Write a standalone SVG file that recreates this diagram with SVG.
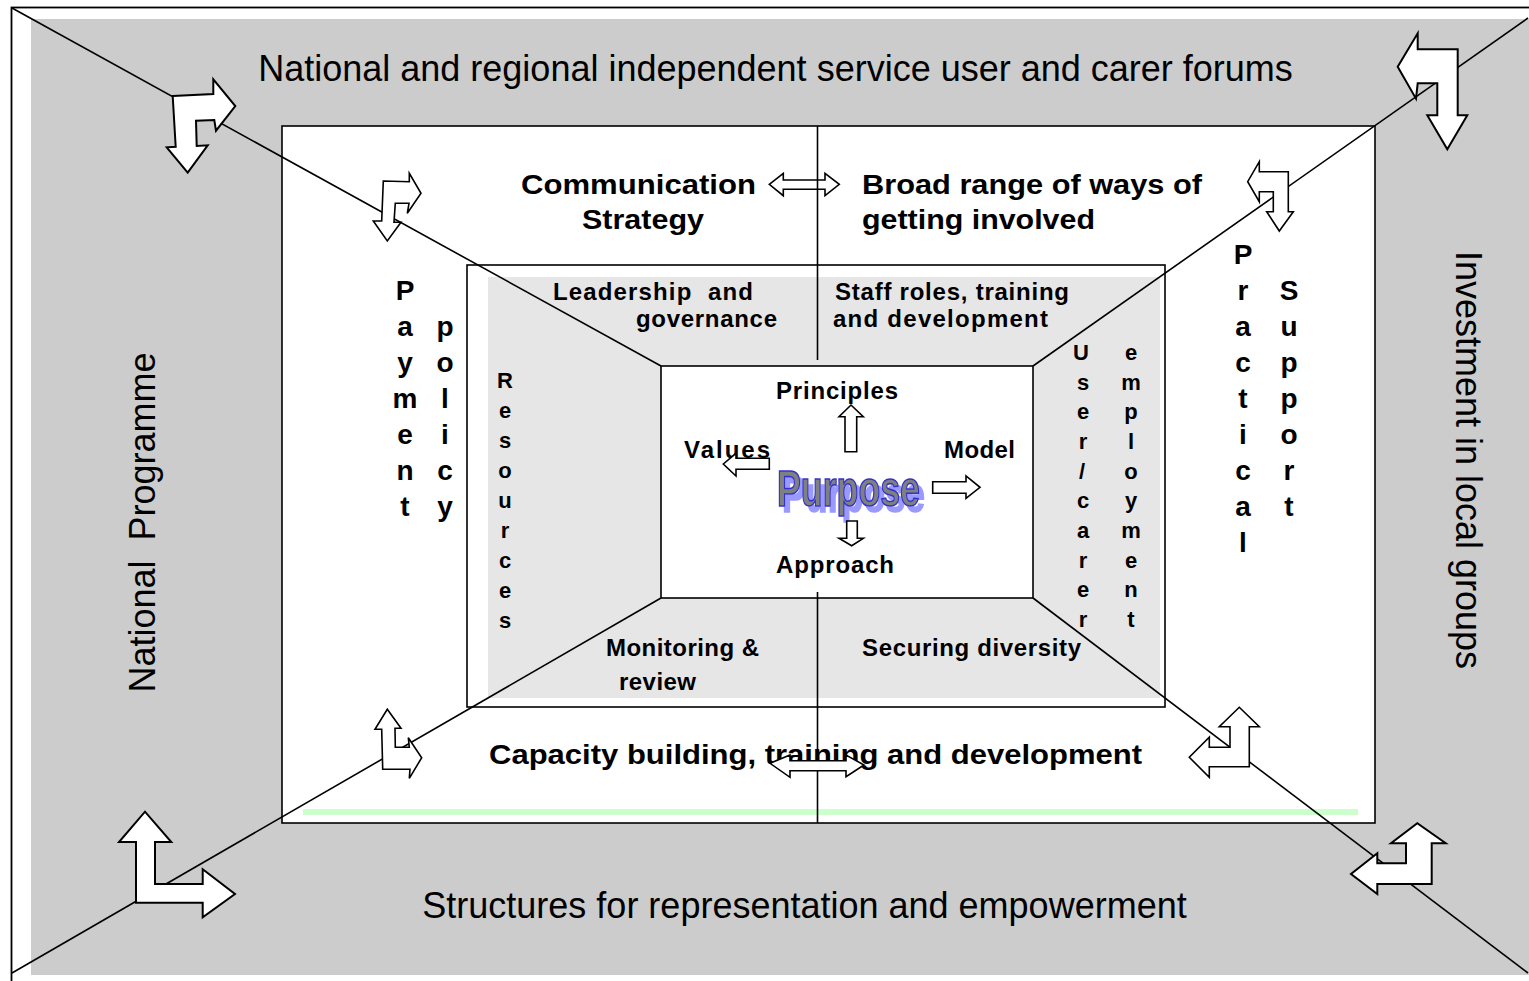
<svg xmlns="http://www.w3.org/2000/svg" width="1529" height="981" viewBox="0 0 1529 981">
<defs>
<filter id="wordart-shadow" x="-10%" y="-20%" width="130%" height="150%">
<feFlood flood-color="#9999ff" result="c"/>
<feComposite in="c" in2="SourceAlpha" operator="in" result="s"/>
<feOffset in="s" dx="5" dy="6" result="so"/>
<feMerge><feMergeNode in="so"/><feMergeNode in="SourceGraphic"/></feMerge>
</filter>
</defs>
<style>
.reg{font-family:"Liberation Sans",Arial,sans-serif;font-size:36px;fill:#000}
.b{font-family:"Liberation Sans",Arial,sans-serif;font-weight:bold;fill:#000}
.b28{font-size:28px}
.b24{font-size:24px}
.b20{font-size:22px}
.stack{font-family:"Liberation Sans",Arial,sans-serif;font-weight:bold;fill:#000;text-anchor:middle}
.ln{stroke:#000;stroke-width:1.6;fill:none}
.arr{fill:#fff;stroke:#000;stroke-width:2;stroke-linejoin:miter}
.arrs{fill:#fff;stroke:#000;stroke-width:1.6}
.frame{fill:#fff;stroke:#000;stroke-width:1.6}
</style>
<rect width="1529" height="981" fill="#fff"/>
<g id="outer-frame">
<rect x="11.5" y="7.5" width="1540" height="1000" fill="#fff" stroke="#000" stroke-width="1.8"/>
<rect x="31" y="19" width="1498" height="956" fill="#cccccc"/>
</g>
<g id="middle-frame">
<rect class="frame" x="282" y="126" width="1093" height="697"/>
<rect x="303" y="809" width="1055" height="6" fill="#ccffcc"/>
</g>
<g id="inner-frame">
<rect class="frame" x="467" y="265" width="698" height="442"/>
<rect x="488" y="277" width="672" height="421" fill="#e6e6e6"/>
</g>
<g id="connectors">
<line class="ln" x1="12" y1="8" x2="661" y2="366"/>
<line class="ln" x1="1528" y1="18" x2="1033" y2="366"/>
<line class="ln" x1="12" y1="973" x2="661" y2="598"/>
<line class="ln" x1="1528" y1="973" x2="1033" y2="598"/>
</g>
<g id="core">
<rect class="frame" x="661" y="366" width="372" height="232"/>
</g>
<g id="arrow-top-double">
<polygon class="arrs" points="769.3,184.3 783.3,173.3 783.3,180 825,180 825,173.3 839.3,184.3 825,195.7 825,189.3 783.3,189.3 783.3,195.7"/>
</g>
<g id="divider-lines">
<line class="ln" x1="817.5" y1="126" x2="817.5" y2="360"/>
<line class="ln" x1="817.5" y1="592" x2="817.5" y2="823"/>
</g>
<g id="corner-arrows">
<polygon class="arr" points="172.7,96 213.3,94 213.3,79.3 235.3,106 216,130.7 214.3,120 196,120.7 196.7,146 207.7,145.3 187.7,172.7 166.7,147.3 175.7,146.7"/>
<polygon class="arr" points="1457.7,49.3 1417.7,49.3 1417.7,33.3 1397.7,66.7 1416,98.7 1417.7,83.3 1437.3,83.3 1437.3,115.3 1427.3,115.3 1447.3,149.3 1467.3,115.3 1457.7,115.3"/>
<polygon class="arr" points="136,902.7 136,842 119,842 145,811.7 171.3,842 155,842 155,884 202.7,884 202.7,869.3 235,894 202.7,917.3 202.7,902.7"/>
<polygon class="arr" points="1431.7,884 1431.7,843.3 1445.7,843.3 1417.3,823.3 1391,843.3 1406,843.3 1406,863.3 1377.3,863.3 1377.3,853.3 1351,874 1377.3,894 1377.3,884"/>
<polygon class="arrs" points="383.3,181 409.3,181.7 409.3,173.3 421,193.3 407.3,213.3 409,203.3 395.3,203.3 394,222.3 401,222.3 387.3,241 373.3,221 381.7,221"/>
<polygon class="arrs" points="1288.3,171.7 1259.3,171.7 1259.3,161.7 1247.7,181.7 1259.3,201.7 1259.3,191.7 1273.3,191.7 1273.3,211.7 1266.7,211.7 1279.3,231 1293.3,211.7 1288.3,211.7"/>
<polygon class="arrs" points="382.7,769.3 381.7,729.3 375,729.3 387.3,709.3 401,728.3 395,728.3 395.3,747.3 409.3,747.3 408.3,737.7 421.7,757.7 409.3,778.3 410,769.3"/>
<polygon class="arrs" points="1249.3,766.7 1249.3,726.7 1259.3,726.7 1239.3,707.3 1219.3,726.7 1230,726.7 1230,747.3 1209.3,747.3 1209.3,737.3 1189.3,757.3 1209.3,777.3 1209.3,766.7"/>
</g>
<g id="outer-labels">
<text class="reg" x="775.5" y="81" text-anchor="middle">National and regional independent service user and carer forums</text>
<text class="reg" x="804.5" y="918" text-anchor="middle">Structures for representation and empowerment</text>
<text class="reg" transform="translate(155,522.5) rotate(-90)" text-anchor="middle" xml:space="preserve">National  Programme</text>
<text class="reg" transform="translate(1456,460) rotate(90)" text-anchor="middle">Investment in local groups</text>
</g>
<g id="middle-labels">
<text class="b b28" x="521" y="194" textLength="235" lengthAdjust="spacingAndGlyphs">Communication</text>
<text class="b b28" x="582" y="229" textLength="122" lengthAdjust="spacingAndGlyphs">Strategy</text>
<text class="b b28" x="862" y="194" textLength="340" lengthAdjust="spacingAndGlyphs">Broad range of ways of</text>
<text class="b b28" x="862" y="229" textLength="233" lengthAdjust="spacingAndGlyphs">getting involved</text>
<text class="b b28" x="489" y="764" textLength="653" lengthAdjust="spacingAndGlyphs">Capacity building, training and development</text>
<text class="stack b28"><tspan x="405" y="300">P</tspan><tspan x="405" y="336">a</tspan><tspan x="405" y="372">y</tspan><tspan x="405" y="408">m</tspan><tspan x="405" y="444">e</tspan><tspan x="405" y="480">n</tspan><tspan x="405" y="516">t</tspan></text>
<text class="stack b28"><tspan x="445" y="336">p</tspan><tspan x="445" y="372">o</tspan><tspan x="445" y="408">l</tspan><tspan x="445" y="444">i</tspan><tspan x="445" y="480">c</tspan><tspan x="445" y="516">y</tspan></text>
<text class="stack b28"><tspan x="1243" y="264">P</tspan><tspan x="1243" y="300">r</tspan><tspan x="1243" y="336">a</tspan><tspan x="1243" y="372">c</tspan><tspan x="1243" y="408">t</tspan><tspan x="1243" y="444">i</tspan><tspan x="1243" y="480">c</tspan><tspan x="1243" y="516">a</tspan><tspan x="1243" y="552">l</tspan></text>
<text class="stack b28"><tspan x="1289" y="300">S</tspan><tspan x="1289" y="336">u</tspan><tspan x="1289" y="372">p</tspan><tspan x="1289" y="408">p</tspan><tspan x="1289" y="444">o</tspan><tspan x="1289" y="480">r</tspan><tspan x="1289" y="516">t</tspan></text>
</g>
<g id="inner-labels">
<text class="b b24" x="553" y="300" textLength="200" lengthAdjust="spacing" xml:space="preserve">Leadership  and</text>
<text class="b b24" x="636" y="327" textLength="141" lengthAdjust="spacing">governance</text>
<text class="b b24" x="835" y="300" textLength="234" lengthAdjust="spacing">Staff roles, training</text>
<text class="b b24" x="833" y="327" textLength="215" lengthAdjust="spacing">and development</text>
<text class="b b24" x="606" y="656" textLength="153" lengthAdjust="spacing">Monitoring &amp;</text>
<text class="b b24" x="619" y="690" textLength="77" lengthAdjust="spacing">review</text>
<text class="b b24" x="862" y="656" textLength="219" lengthAdjust="spacing">Securing diversity</text>
<text class="stack b20"><tspan x="505" y="388">R</tspan><tspan x="505" y="418">e</tspan><tspan x="505" y="448">s</tspan><tspan x="505" y="478">o</tspan><tspan x="505" y="508">u</tspan><tspan x="505" y="538">r</tspan><tspan x="505" y="568">c</tspan><tspan x="505" y="598">e</tspan><tspan x="505" y="628">s</tspan></text>
<text class="stack b20"><tspan x="1081" y="360">U</tspan><tspan x="1083" y="390">s</tspan><tspan x="1083" y="419">e</tspan><tspan x="1083" y="449">r</tspan><tspan x="1082" y="479">/</tspan><tspan x="1083" y="508">c</tspan><tspan x="1083" y="538">a</tspan><tspan x="1083" y="568">r</tspan><tspan x="1083" y="597">e</tspan><tspan x="1083" y="627">r</tspan></text>
<text class="stack b20"><tspan x="1131" y="360">e</tspan><tspan x="1131" y="390">m</tspan><tspan x="1131" y="419">p</tspan><tspan x="1131" y="449">l</tspan><tspan x="1131" y="479">o</tspan><tspan x="1131" y="508">y</tspan><tspan x="1131" y="538">m</tspan><tspan x="1131" y="568">e</tspan><tspan x="1131" y="597">n</tspan><tspan x="1131" y="627">t</tspan></text>
</g>
<g id="core-labels">
<text class="b b24" x="776" y="399" textLength="122" lengthAdjust="spacing">Principles</text>
<text class="b b24" x="684" y="458" textLength="86" lengthAdjust="spacing">Values</text>
<text class="b b24" x="944" y="458" textLength="71" lengthAdjust="spacing">Model</text>
<text class="b b24" x="776" y="573" textLength="118" lengthAdjust="spacing">Approach</text>
<text x="777" y="506" filter="url(#wordart-shadow)" font-family="'Liberation Sans',Arial,sans-serif" font-weight="bold" font-size="50" fill="#808080" stroke="#3333cc" stroke-width="1.6" textLength="143" lengthAdjust="spacingAndGlyphs">Purpose</text>
</g>
<g id="core-arrows">
<polygon class="arrs" points="851,405 863.3,416.7 856.7,416.7 856.7,451.7 845,451.7 845,416.7 839,416.7"/>
<polygon class="arrs" points="723.3,464 736,453.3 736,458.3 769.3,458.3 769.3,469.3 736,469.3 736,476"/>
<polygon class="arrs" points="932.7,481.7 966,481.7 966,476 980,487.3 966,498.3 966,493.3 932.7,493.3"/>
<polygon class="arrs" points="846.7,521 857.3,521 857.3,538.3 863.3,538.3 851.7,545.7 839,538.3 846.7,538.3"/>
</g>
<g id="arrow-bottom-double">
<polygon class="arrs" points="770,763.3 790,755 790,760.7 846,760.7 846,755 864,765 846,776.7 846,770.7 790,770.7 790,777.3"/>
</g>
</svg>
